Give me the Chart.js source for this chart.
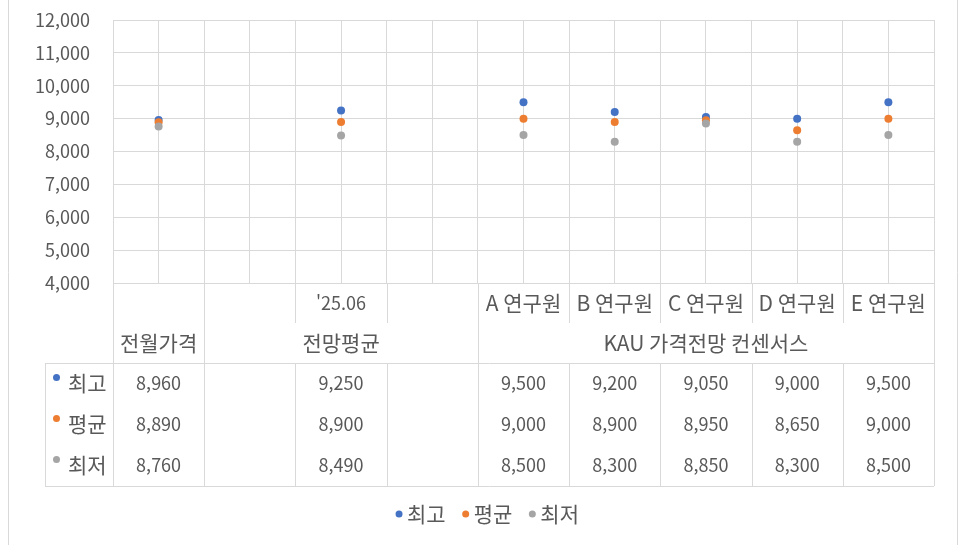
<!DOCTYPE html>
<html lang="ko">
<head>
<meta charset="utf-8">
<title>KAU 가격전망 컨센서스</title>
<script src="https://cdn.jsdelivr.net/npm/chart.js@4.4.1/dist/chart.umd.min.js"></script>
<style>
  html, body { margin: 0; padding: 0; background: #fff; }
  #wrap { width: 960px; height: 545px; }
</style>
</head>
<body>
<div id="wrap"><canvas id="chart" width="960" height="545"></canvas></div>
<script>
// Data
const topLabels = ["", "", "'25.06", "", "A 연구원", "B 연구원", "C 연구원", "D 연구원", "E 연구원"];
const groupLabels = ["전월가격", "전망평균", "KAU 가격전망 컨센서스"];
const groupSpans = [[0, 0], [1, 3], [4, 8]];
const seriesNames = ["최고", "평균", "최저"];
const highValues = [8960, null, 9250, null, 9500, 9200, 9050, 9000, 9500];
const avgValues = [8890, null, 8900, null, 9000, 8900, 8950, 8650, 9000];
const lowValues = [8760, null, 8490, null, 8500, 8300, 8850, 8300, 8500];
const yTicks = [4000, 5000, 6000, 7000, 8000, 9000, 10000, 11000, 12000];

const seriesValues = [highValues, avgValues, lowValues];
const colors = ["#4472C4", "#ED7D31", "#A5A5A5"];
const FONT = '"Noto Sans CJK KR", "Noto Sans", sans-serif';
const NUM_FONT = "18px " + FONT;
const KOR_FONT = "21px " + FONT;
const TEXT = "#595959";
const LINE = "#D9D9D9";

const fmt = (v) => v.toLocaleString("en-US");
const toPoints = (arr) =>
  arr.map((v, i) => (v === null ? null : { x: i, y: v })).filter((p) => p);

// Data table + legend drawn under the plot
const tablePlugin = {
  id: "dataTable",
  afterDraw(chart) {
    const ctx = chart.ctx;
    const xs = chart.scales.x;
    const area = chart.chartArea;
    const n = topLabels.length;
    const edge = (i) => xs.getPixelForValue(i - 0.5);
    const mid = (i) => xs.getPixelForValue(i);

    const keyLeft = 45;
    const row1 = area.bottom + 40;
    const row2 = area.bottom + 80;
    const rowH = 41;
    const bottom = row2 + rowH * seriesNames.length;
    const groupEdges = groupSpans.map((g) => g[0]);

    const line = (x1, y1, x2, y2) => {
      ctx.beginPath();
      if (x1 === x2) {
        const x = Math.round(x1) + 0.5;
        ctx.moveTo(x, y1);
        ctx.lineTo(x, y2);
      } else {
        const y = Math.round(y1) + 0.5;
        ctx.moveTo(x1, y);
        ctx.lineTo(x2, y);
      }
      ctx.stroke();
    };

    ctx.save();
    ctx.strokeStyle = LINE;
    ctx.lineWidth = 1;

    // outer chart border (left / right)
    line(8, 0, 8, chart.height);
    line(957, 0, 957, chart.height);

    // vertical lines
    line(edge(0), area.bottom, edge(0), bottom);
    line(edge(n), area.bottom, edge(n), bottom);
    line(keyLeft, row2, keyLeft, bottom);
    for (let b = 1; b < n; b++) {
      const x = edge(b);
      if (groupEdges.includes(b)) line(x, area.bottom, x, row2);
      else line(x, area.bottom, x, row1);
      line(x, row2, x, bottom);
    }
    // horizontal lines
    line(keyLeft, row2, edge(n), row2);
    line(keyLeft, bottom, edge(n), bottom);

    // texts
    ctx.fillStyle = TEXT;
    ctx.textBaseline = "middle";
    ctx.textAlign = "center";
    topLabels.forEach((t, i) => {
      if (!t) return;
      ctx.font = /^[\d'.]+$/.test(t) ? NUM_FONT : KOR_FONT;
      ctx.fillText(t, mid(i), area.bottom + 20);
    });
    ctx.font = KOR_FONT;
    groupLabels.forEach((t, g) => {
      const cx = (edge(groupSpans[g][0]) + edge(groupSpans[g][1] + 1)) / 2;
      ctx.fillText(t, cx, area.bottom + 60);
    });

    seriesValues.forEach((vals, s) => {
      const cy = row2 + rowH * s + rowH / 2;
      ctx.textAlign = "center";
      ctx.fillStyle = TEXT;
      ctx.font = NUM_FONT;
      vals.forEach((v, i) => {
        if (v !== null) ctx.fillText(fmt(v), mid(i), cy);
      });
      // series key
      ctx.fillStyle = colors[s];
      ctx.beginPath();
      ctx.arc(56.5, cy - 6, 3.5, 0, Math.PI * 2);
      ctx.fill();
      ctx.fillStyle = TEXT;
      ctx.textAlign = "left";
      ctx.font = KOR_FONT;
      ctx.fillText(seriesNames[s], 68, cy);
    });

    // legend
    const ly = 514;
    ctx.font = KOR_FONT;
    const widths = seriesNames.map((t) => 12 + ctx.measureText(t).width);
    const gap = 16;
    const total = widths.reduce((a, b) => a + b, 0) + gap * (widths.length - 1);
    let lx = 487 - total / 2;
    seriesNames.forEach((t, s) => {
      ctx.fillStyle = colors[s];
      ctx.beginPath();
      ctx.arc(lx + 4, ly, 3.5, 0, Math.PI * 2);
      ctx.fill();
      ctx.fillStyle = TEXT;
      ctx.textAlign = "left";
      ctx.fillText(t, lx + 12, ly);
      lx += widths[s] + gap;
    });
    ctx.restore();
  },
};

new Chart(document.getElementById("chart"), {
  type: "scatter",
  data: {
    datasets: seriesNames.map((name, s) => ({
      label: name,
      data: toPoints(seriesValues[s]),
      backgroundColor: colors[s],
      borderColor: colors[s],
      pointRadius: 4,
      pointBorderWidth: 0,
      pointHoverRadius: 4,
      order: seriesNames.length - s,
    })),
  },
  options: {
    responsive: false,
    animation: false,
    layout: { padding: { left: 0, right: 26, top: 20, bottom: 0 } },
    plugins: { legend: { display: false }, tooltip: { enabled: false } },
    scales: {
      x: {
        type: "linear",
        min: -0.5,
        max: topLabels.length - 0.5,
        ticks: { display: false, stepSize: 0.5 },
        grid: { color: LINE, drawTicks: false },
        border: { color: LINE },
        afterFit: (s) => { s.height = 262; },
      },
      y: {
        min: yTicks[0],
        max: yTicks[yTicks.length - 1],
        afterBuildTicks: (s) => { s.ticks = yTicks.map((v) => ({ value: v })); },
        ticks: {
          color: TEXT,
          font: { family: FONT, size: 18 },
          padding: 0,
          callback: (v) => fmt(v),
        },
        // invisible tick marks keep the labels 23px off the axis
        grid: { color: LINE, drawTicks: true, tickLength: 23, tickColor: "rgba(0,0,0,0)" },
        border: { color: LINE },
        afterFit: (s) => { s.width = 113; },
      },
    },
  },
  plugins: [tablePlugin],
});
</script>
</body>
</html>
